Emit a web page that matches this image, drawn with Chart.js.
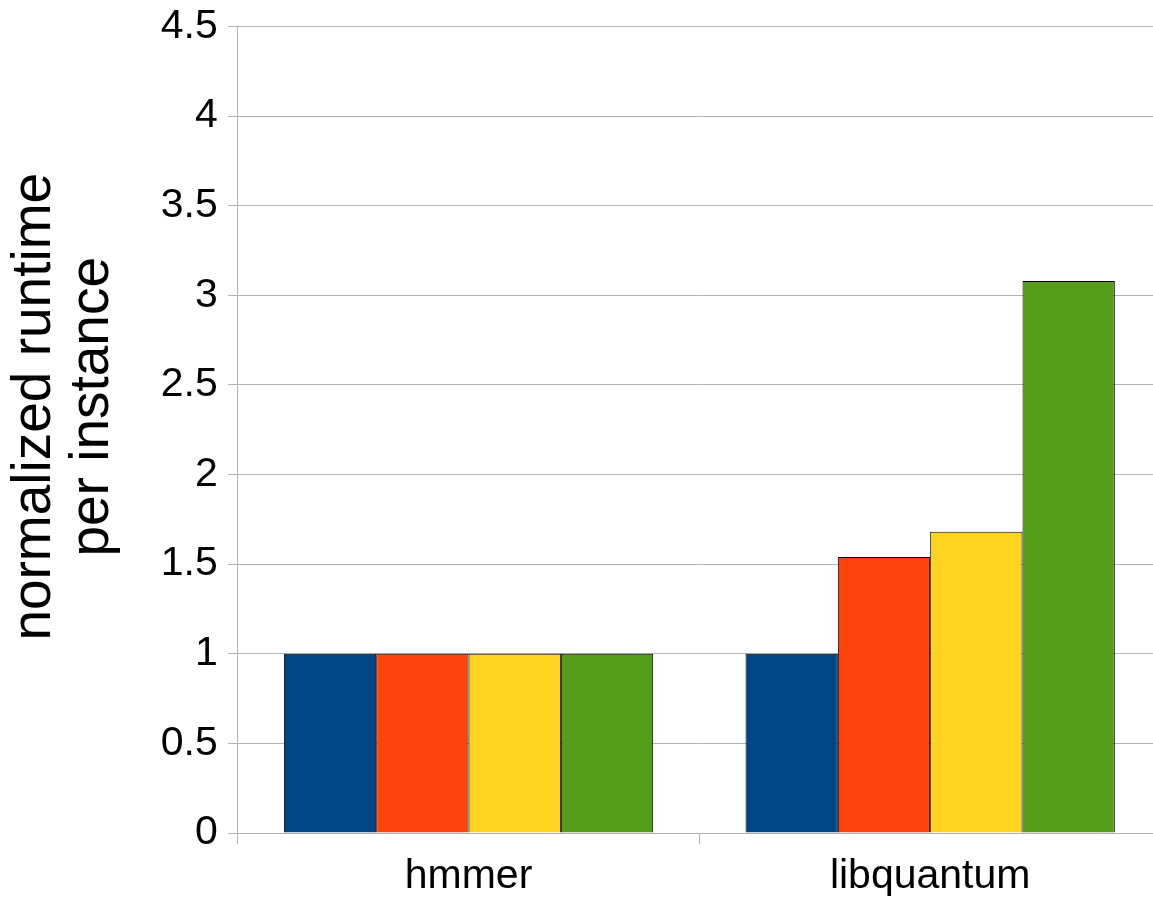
<!DOCTYPE html>
<html lang="en">
  <head>
    <meta charset="UTF-8" />
    <title>normalized runtime per instance</title>
    <script src="https://cdn.jsdelivr.net/npm/chart.js"></script>
    <style>
      html, body { margin: 0; padding: 0; overflow: hidden; background: #fff; }
      #wrap { width: 1153px; height: 897px; overflow: hidden; }
    </style>
  </head>
  <body>
    <div id="wrap">
      <canvas id="runtimeChart" width="1161" height="897"></canvas>
    </div>
    <script>
      // benchmarks and normalized runtime per instance, one array per series
      const benchmarks = ["hmmer", "libquantum"];
      const series1 = [1, 1];
      const series2 = [1, 1.54];
      const series3 = [1, 1.68];
      const series4 = [1, 3.08];

      const yMin = 0;
      const yMax = 4.5;
      const yStep = 0.5;

      const grey = "#b3b3b3";
      const font = "'Liberation Sans', Arial, sans-serif";

      const ctx = document.getElementById("runtimeChart").getContext("2d");

      const runtimeChart = new Chart(ctx, {
        type: "bar",
        data: {
          labels: benchmarks,
          datasets: [
            { label: "1", data: series1, backgroundColor: "#004586" },
            { label: "2", data: series2, backgroundColor: "#ff420e" },
            { label: "3", data: series3, backgroundColor: "#ffd320" },
            { label: "4", data: series4, backgroundColor: "#579d1c" },
          ].map((d) => ({
            ...d,
            borderColor: "#000000",
            borderWidth: 1,
            categoryPercentage: 0.8,
            barPercentage: 1.0,
          })),
        },
        options: {
          responsive: false,
          animation: false,
          layout: { padding: { top: 0, left: 5, right: 0, bottom: -12 } },
          plugins: {
            legend: { display: false },
            tooltip: { enabled: false },
          },
          scales: {
            x: {
              grid: {
                offset: true,
                drawOnChartArea: false,
                drawTicks: true,
                tickLength: 11,
                color: grey,
              },
              border: { color: grey },
              ticks: {
                color: "#000",
                padding: 12,
                font: { family: font, size: 41, lineHeight: 1.0 },
              },
            },
            y: {
              min: yMin,
              max: yMax,
              ticks: {
                stepSize: yStep,
                color: "#000",
                padding: 10,
                font: { family: font, size: 41, lineHeight: 0.8 },
                callback: (v) => String(v),
              },
              grid: { color: grey, tickLength: 10 },
              border: { color: grey },
              title: {
                display: true,
                // leading spaces nudge the centred title up a little, as in the original
                text: ["   normalized runtime", "   per instance"],
                color: "#000",
                font: { family: font, size: 55, lineHeight: 1.07 },
                padding: { top: 0, bottom: 28 },
              },
            },
          },
        },
      });
    </script>
  </body>
</html>
